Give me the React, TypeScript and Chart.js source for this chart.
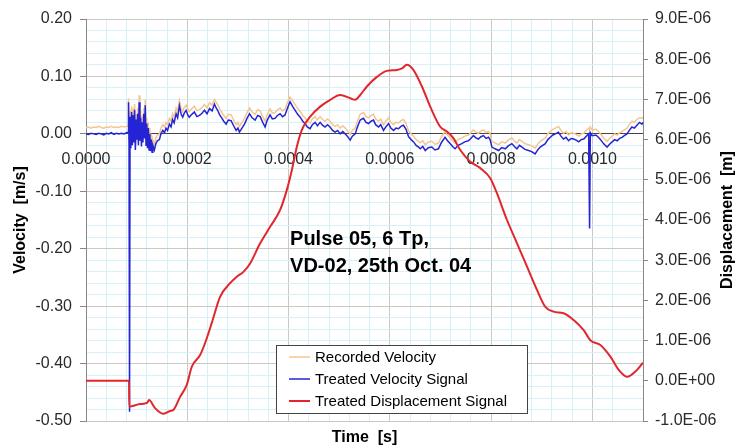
import React, { useEffect, useRef } from 'react';
import { Chart, registerables } from 'chart.js';

Chart.register(...registerables);

const FONT = '"Liberation Sans", Arial, Helvetica, sans-serif';

const seriesLabels = ['Recorded Velocity', 'Treated Velocity Signal', 'Treated Displacement Signal'];
const seriesColors = ['#f5c690', '#2424d6', '#e2262b'];

const xTitle = 'Time  [s]';
const leftTitle = 'Velocity  [m/s]';
const rightTitle = 'Displacement  [m]';
const annotationLines = ['Pulse 05, 6 Tp,', 'VD-02, 25th Oct. 04'];
const annotationTime = 0.000403;
const annotationVelocity = [-0.194, -0.241];

// time of velocity samples in microseconds
const velocityTimeUs = [
  0, 5, 10, 15, 20, 25, 30, 35, 40, 45, 50, 55, 60, 65, 70, 75, 80,
  83, 84, 85, 86, 87, 88.5, 90, 91.5, 93, 94.5, 96, 97.5, 99, 100.5, 102, 103.5, 105, 106.5, 108, 109.5,
  111, 112.5, 114, 115.5, 117, 118.5, 120, 121.5, 123, 124.5, 126, 127.5, 129, 130.5, 132, 135, 138, 141,
  145, 148, 151.6, 155, 158, 161, 164.7, 168, 171, 174, 178, 181, 184.5, 188, 191, 194, 197.7, 201, 204,
  209, 214, 219, 224, 229, 234, 239, 244, 249, 253.7, 257, 260, 264, 267, 272, 276.7, 281, 286.6, 291,
  296.5, 300, 303, 308, 313, 318, 323, 328, 334, 339, 344, 349, 353.7, 358, 363.5, 368, 373.4, 378, 383.3,
  388, 393, 398, 403, 408, 413, 418, 423, 428, 432.7, 437, 442.6, 447, 452.5, 457, 462.4, 467, 472, 477,
  482, 487, 492, 497, 502, 507, 511.8, 516, 521.7, 526, 531.6, 536, 541.5, 548, 553, 558, 563, 567.8, 572,
  577.7, 582, 587.6, 592, 597.5, 602, 607.4, 612, 617, 622, 627, 632, 637, 642, 647, 652, 656.8, 660, 665,
  670, 676, 683, 689, 696, 702, 709, 714, 719, 724, 729, 735, 742, 748, 755, 760, 765, 770, 775, 780, 785,
  790, 795, 798, 801.6, 808, 814.8, 821, 828, 834, 841, 846, 851, 856, 861, 867, 874, 880, 887, 892, 897,
  902, 907, 912, 917, 922, 927, 933, 938, 943, 948, 953, 958, 963, 968, 973, 978, 983, 988, 992.7, 994.5,
  996, 999, 1002.6, 1007, 1012, 1017, 1022, 1029, 1034, 1039, 1044, 1049, 1054, 1058.6, 1063, 1068.5,
  1073, 1078, 1083, 1088, 1093, 1098, 1100,
];

const treatedVelocity = [
  0.000, -0.001, 0.001, 0.000, -0.001, 0.001, 0.000, -0.002, 0.001, 0.000, 0.002, -0.001, 0.001, 0.000, 0.001, 0.000, 0.002,
  0.003, 0.055, -0.020, -0.484, 0.030, -0.025, 0.038, -0.020, 0.033, -0.015, 0.042, -0.028, 0.025, -0.010, 0.035, -0.020, 0.055, -0.012, 0.028, -0.022,
  0.020, -0.015, 0.035, -0.008, 0.050, -0.020, 0.018, -0.025, 0.010, -0.028, 0.000, -0.030, -0.010, -0.032, -0.020, -0.028, -0.017, -0.012,
  -0.010, 0.000, 0.006, 0.002, 0.010, 0.006, 0.017, 0.012, 0.025, 0.019, 0.035, 0.028, 0.049, 0.034, 0.029, 0.036, 0.041, 0.033, 0.029,
  0.034, 0.038, 0.030, 0.032, 0.036, 0.041, 0.035, 0.044, 0.040, 0.052, 0.045, 0.041, 0.033, 0.029, 0.022, 0.017, 0.024, 0.023, 0.015,
  0.006, 0.010, 0.003, 0.010, 0.017, 0.027, 0.035, 0.028, 0.024, 0.032, 0.030, 0.020, 0.012, 0.024, 0.033, 0.026, 0.027, 0.032, 0.035,
  0.030, 0.033, 0.045, 0.056, 0.048, 0.041, 0.034, 0.029, 0.022, 0.018, 0.012, 0.009, 0.016, 0.020, 0.014, 0.020, 0.015, 0.012, 0.016,
  0.012, 0.006, 0.003, 0.006, 0.000, 0.004, 0.000, -0.004, -0.011, -0.004, 0.000, 0.012, 0.024, 0.027, 0.020, 0.018, 0.022, 0.024, 0.016,
  0.012, 0.016, 0.006, 0.012, 0.018, 0.010, 0.006, 0.010, 0.009, 0.013, 0.015, 0.008, -0.005, -0.010, -0.014, -0.020, -0.023, -0.026, -0.022,
  -0.029, -0.024, -0.023, -0.028, -0.026, -0.015, -0.006, -0.012, -0.017, -0.022, -0.026, -0.020, -0.017, -0.014, -0.012, -0.008, -0.003, -0.007, -0.009, -0.005, -0.003,
  -0.008, -0.006, -0.010, -0.023, -0.026, -0.029, -0.024, -0.026, -0.021, -0.017, -0.022, -0.026, -0.020, -0.023, -0.027, -0.029, -0.031, -0.035, -0.028, -0.023,
  -0.020, -0.017, -0.010, -0.006, -0.002, 0.000, 0.003, -0.004, -0.009, -0.006, -0.012, -0.008, -0.009, -0.011, -0.014, -0.010, -0.009, -0.004, 0.000, -0.165,
  0.002, -0.003, -0.003, -0.002, -0.006, -0.011, -0.017, -0.023, -0.018, -0.014, -0.010, -0.012, -0.008, -0.006, -0.003, 0.000,
  0.006, 0.012, 0.010, 0.015, 0.020, 0.017, 0.020,
];

const recordedVelocity = [
  0.011, 0.012, 0.010, 0.012, 0.011, 0.013, 0.011, 0.010, 0.012, 0.011, 0.013, 0.011, 0.012, 0.011, 0.013, 0.012, 0.013,
  0.014, 0.062, -0.010, 0.010, 0.040, -0.015, 0.048, -0.010, 0.045, -0.005, 0.052, -0.018, 0.035, 0.000, 0.045, -0.010, 0.067, -0.002, 0.040, -0.012,
  0.032, -0.005, 0.045, 0.002, 0.060, -0.010, 0.028, -0.015, 0.020, -0.018, 0.010, -0.020, 0.000, -0.022, -0.010, -0.018, -0.007, -0.002,
  0.000, 0.010, 0.016, 0.012, 0.020, 0.016, 0.027, 0.022, 0.035, 0.029, 0.045, 0.038, 0.058, 0.044, 0.039, 0.046, 0.050, 0.043, 0.039,
  0.044, 0.048, 0.040, 0.042, 0.046, 0.051, 0.045, 0.054, 0.050, 0.060, 0.055, 0.051, 0.043, 0.039, 0.032, 0.027, 0.034, 0.033, 0.025,
  0.016, 0.020, 0.013, 0.020, 0.027, 0.037, 0.045, 0.038, 0.034, 0.042, 0.040, 0.030, 0.022, 0.034, 0.043, 0.036, 0.037, 0.042, 0.045,
  0.040, 0.043, 0.055, 0.064, 0.058, 0.051, 0.044, 0.039, 0.032, 0.028, 0.022, 0.019, 0.026, 0.030, 0.024, 0.030, 0.025, 0.022, 0.026,
  0.022, 0.016, 0.013, 0.016, 0.010, 0.014, 0.010, 0.006, -0.001, 0.006, 0.010, 0.022, 0.034, 0.037, 0.030, 0.028, 0.032, 0.034, 0.026,
  0.022, 0.026, 0.016, 0.022, 0.028, 0.020, 0.016, 0.020, 0.019, 0.023, 0.025, 0.018, 0.005, 0.000, -0.004, -0.010, -0.013, -0.016, -0.012,
  -0.019, -0.014, -0.013, -0.018, -0.016, -0.005, 0.004, -0.002, -0.007, -0.012, -0.016, -0.010, -0.007, -0.004, -0.002, 0.002, 0.007, 0.003, 0.001, 0.005, 0.007,
  0.002, 0.004, 0.000, -0.013, -0.016, -0.019, -0.014, -0.016, -0.011, -0.007, -0.012, -0.016, -0.010, -0.013, -0.017, -0.019, -0.021, -0.025, -0.018, -0.013,
  -0.010, -0.007, 0.000, 0.004, 0.008, 0.010, 0.013, 0.006, 0.001, 0.004, -0.002, 0.002, 0.001, -0.001, -0.004, 0.000, 0.001, 0.006, 0.010, 0.008,
  0.012, 0.007, 0.007, 0.008, 0.004, -0.001, -0.007, -0.013, -0.008, -0.004, 0.000, -0.002, 0.002, 0.004, 0.007, 0.010,
  0.016, 0.022, 0.020, 0.025, 0.028, 0.027, 0.030,
];

// displacement samples: time in microseconds, displacement in micrometres
const displacementTimeUs = [
  0, 85, 85.5, 106.7, 120.6, 124.5, 136.4, 152.2, 166, 172, 185.8, 199, 209, 225.3, 235.2, 248.4, 264.8,
  284.6, 297.8, 310.9, 324.1, 343.9, 363.6, 383.4, 396.6, 406.5, 416.4, 426.3, 442.7, 462.5, 482.2, 502,
  521.7, 531.6, 541.5, 554.7, 574.5, 594.2, 614, 623.9, 633.7, 646.8, 663.4, 679.8, 699.6, 712.8, 725.9,
  739.1, 758.9, 778.7, 798.4, 811.7, 831.4, 851.2, 871, 890.7, 907.1, 923.5, 943.3, 963, 982.8, 996,
  1015.8, 1035.6, 1052.2, 1068.8, 1085, 1100,
];

const treatedDisplacementUm = [
  0.0, 0.0, -0.64, -0.58, -0.55, -0.48, -0.68, -0.82, -0.75, -0.73, -0.40, -0.10, 0.35, 0.64, 0.94, 1.44, 2.09,
  2.43, 2.59, 2.71, 2.92, 3.42, 3.83, 4.25, 4.75, 5.24, 5.82, 6.24, 6.57, 6.82, 6.99, 7.11,
  7.03, 6.99, 7.11, 7.32, 7.56, 7.71, 7.73, 7.77, 7.86, 7.73, 7.32, 6.82, 6.32, 6.20, 6.03,
  5.74, 5.45, 5.29, 5.04, 4.66, 4.00, 3.42, 2.84, 2.26, 1.84, 1.72, 1.68, 1.51, 1.26, 1.01,
  0.89, 0.60, 0.27, 0.10, 0.23, 0.45,
];

function isMultiple(v: number, step: number) {
  const r = v / step;
  return Math.abs(r - Math.round(r)) < 1e-6;
}

function sciLabel(v: number) {
  if (Math.abs(v) < 1e-12) return '0.0E+00';
  const [m, e] = Number(v).toExponential(1).split('e');
  const n = parseInt(e, 10);
  return `${m}E${n < 0 ? '-' : '+'}${String(Math.abs(n)).padStart(2, '0')}`;
}

const overlayPlugin = {
  id: 'overlay',
  afterDraw(chart: any) {
    const { ctx, chartArea, scales } = chart;
    ctx.save();
    // annotation text
    ctx.fillStyle = '#000';
    ctx.font = `bold 20px ${FONT}`;
    ctx.textAlign = 'left';
    ctx.textBaseline = 'alphabetic';
    const ax = scales.x.getPixelForValue(annotationTime);
    annotationLines.forEach((line, i) => {
      ctx.fillText(line, ax, scales.y.getPixelForValue(annotationVelocity[i]));
    });
    ctx.restore();

    // right axis title (reads bottom to top)
    ctx.save();
    ctx.fillStyle = '#000';
    ctx.font = `bold 16px ${FONT}`;
    ctx.translate(728, (chartArea.top + chartArea.bottom) / 2);
    ctx.rotate(-Math.PI / 2);
    ctx.textAlign = 'center';
    ctx.textBaseline = 'middle';
    ctx.fillText(rightTitle, 0, 0);
    ctx.restore();

    // legend box
    ctx.save();
    const bx = chartArea.left + 190;
    const by = chartArea.bottom - 76;
    const bw = 251;
    const bh = 68;
    ctx.fillStyle = '#fff';
    ctx.fillRect(bx, by, bw, bh);
    ctx.strokeStyle = '#444';
    ctx.lineWidth = 1;
    ctx.strokeRect(bx + 0.5, by + 0.5, bw, bh);
    ctx.font = `15px ${FONT}`;
    ctx.textBaseline = 'middle';
    ctx.textAlign = 'left';
    chart.data.datasets.forEach((ds: any, i: number) => {
      const cy = by + 12 + i * 22;
      ctx.strokeStyle = ds.borderColor;
      ctx.lineWidth = i === 2 ? 2 : 1.5;
      ctx.beginPath();
      ctx.moveTo(bx + 13, cy);
      ctx.lineTo(bx + 34, cy);
      ctx.stroke();
      ctx.fillStyle = '#000';
      ctx.fillText(ds.label, bx + 39, cy + 1);
    });
    ctx.restore();
  },
};

export default function App() {
  const canvasRef = useRef<HTMLCanvasElement | null>(null);

  useEffect(() => {
    const canvas = canvasRef.current;
    if (!canvas) return;

    const recorded = velocityTimeUs.map((t, i) => ({ x: t * 1e-6, y: recordedVelocity[i] }));
    const treated = velocityTimeUs.map((t, i) => ({ x: t * 1e-6, y: treatedVelocity[i] }));
    const disp = displacementTimeUs.map((t, i) => ({ x: t * 1e-6, y: treatedDisplacementUm[i] * 1e-6 }));

    const majorGrid = '#c9c9c9';
    const minorGrid = '#d6f2f8';

    const chart = new Chart(canvas, {
      type: 'line',
      data: {
        datasets: [
          {
            label: seriesLabels[0],
            data: recorded,
            borderColor: seriesColors[0],
            borderWidth: 1.5,
            pointRadius: 0,
            tension: 0,
            xAxisID: 'x',
            yAxisID: 'y',
            order: 2,
          },
          {
            label: seriesLabels[1],
            data: treated,
            borderColor: seriesColors[1],
            borderWidth: 1.5,
            pointRadius: 0,
            tension: 0,
            xAxisID: 'x',
            yAxisID: 'y',
            order: 1,
          },
          {
            label: seriesLabels[2],
            data: disp,
            borderColor: seriesColors[2],
            borderWidth: 2,
            pointRadius: 0,
            cubicInterpolationMode: 'monotone',
            xAxisID: 'x',
            yAxisID: 'y2',
            order: 0,
          },
        ],
      },
      options: {
        responsive: false,
        animation: false,
        events: [],
        layout: { padding: { top: 19, left: 0, right: 0, bottom: 0 } },
        plugins: {
          legend: { display: false },
          tooltip: { enabled: false },
        },
        scales: {
          x: {
            type: 'linear',
            position: { y: 0 } as any,
            min: 0,
            max: 0.0011,
            ticks: {
              stepSize: 0.00004,
              autoSkip: false,
              maxRotation: 0,
              padding: 16,
              color: '#2a2a2a',
              font: { family: FONT, size: 16 },
              callback: (v: any) => (isMultiple(Number(v), 0.0002) ? Number(v).toFixed(4) : ''),
            },
            grid: {
              color: (c: any) => (c.tick && isMultiple(c.tick.value, 0.0002) ? majorGrid : minorGrid),
              drawTicks: false,
            },
            border: { display: true, color: '#444', width: 1 },
          },
          x2: {
            type: 'linear',
            position: 'bottom',
            min: 0,
            max: 0.0011,
            ticks: { display: false },
            grid: { display: false, drawTicks: false },
            border: { display: false },
            title: {
              display: true,
              text: xTitle,
              color: '#000',
              font: { family: FONT, size: 16, weight: 'bold' },
              padding: { top: 0, bottom: 0 },
            },
            afterFit: (s: any) => {
              s.height = 26;
            },
          },
          y: {
            type: 'linear',
            position: 'left',
            min: -0.5,
            max: 0.2,
            ticks: {
              stepSize: 0.02,
              autoSkip: false,
              padding: 8,
              color: '#2a2a2a',
              font: { family: FONT, size: 16 },
              callback: (v: any) => (isMultiple(Number(v), 0.1) ? Number(v).toFixed(2) : ''),
            },
            grid: {
              color: (c: any) => (c.tick && isMultiple(c.tick.value, 0.1) ? majorGrid : minorGrid),
              tickColor: (c: any) => (c.tick && isMultiple(c.tick.value, 0.1) ? '#888' : 'rgba(0,0,0,0)'),
              tickLength: 6,
            },
            border: { display: true, color: '#888', width: 1 },
            title: {
              display: true,
              text: leftTitle,
              color: '#000',
              font: { family: FONT, size: 16, weight: 'bold' },
              padding: { top: 11, bottom: 0 },
            },
            afterFit: (s: any) => {
              s.width = 86;
            },
          },
          y2: {
            type: 'linear',
            position: 'right',
            min: -1e-6,
            max: 9e-6,
            ticks: {
              stepSize: 1e-6,
              autoSkip: false,
              padding: 7,
              color: '#2a2a2a',
              font: { family: FONT, size: 16 },
              callback: (v: any) => sciLabel(Number(v)),
            },
            grid: {
              drawOnChartArea: false,
              color: '#888',
              tickLength: 5,
            },
            border: { display: true, color: '#888', width: 1 },
            afterFit: (s: any) => {
              s.width = 95;
            },
          },
        },
      } as any,
      plugins: [overlayPlugin],
    });

    return () => {
      chart.destroy();
    };
  }, []);

  return (
    <div style={{ position: 'absolute', left: 0, top: 0, width: 738, height: 447, background: '#fff' }}>
      <canvas ref={canvasRef} width={738} height={447} style={{ display: 'block' }} />
    </div>
  );
}
